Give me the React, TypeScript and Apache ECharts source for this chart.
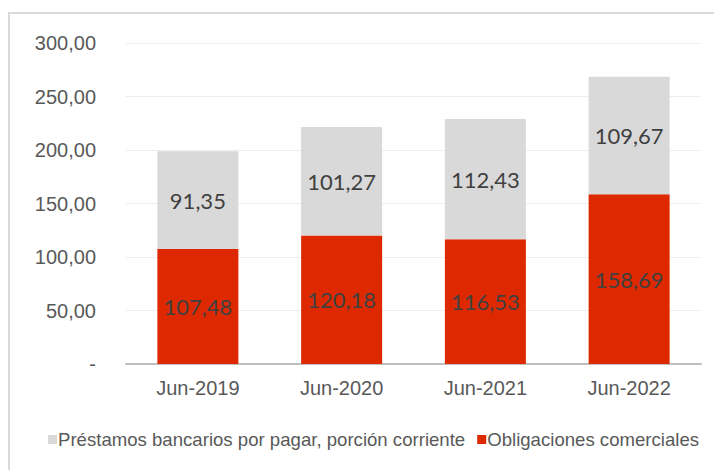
import React, { useEffect, useRef } from "react";
import * as echarts from "echarts";

const categories = ["Jun-2019", "Jun-2020", "Jun-2021", "Jun-2022"];
const obligaciones = [107.48, 120.18, 116.53, 158.69];
const prestamos = [91.35, 101.27, 112.43, 109.67];
const seriesNames = [
  "Préstamos bancarios por pagar, porción corriente",
  "Obligaciones comerciales",
];

const fmt = (v: number) => (v === 0 ? "-" : v.toFixed(2).replace(".", ","));

export default function App() {
  const ref = useRef<HTMLDivElement>(null);
  useEffect(() => {
    document.body.style.margin = "0";
    const chart = echarts.init(ref.current!, null, { renderer: "svg" });
    const labelStyle = {
      show: true,
      position: "inside" as const,
      color: "#404040",
      fontFamily: "Lato",
      fontSize: 22,
      formatter: (p: any) => fmt(p.value),
    };
    chart.setOption({
      animation: false,
      backgroundColor: "#ffffff",
      graphic: [
        {
          type: "rect",
          shape: { x: 9, y: 13, width: 720, height: 470 },
          style: { fill: "none", stroke: "#D9D9D9", lineWidth: 2 },
          silent: true,
        },
      ],
      grid: { left: 126, right: 13, top: 43, bottom: 106 },
      legend: {
        left: 43,
        top: 425,
        itemWidth: 9,
        itemHeight: 9,
        itemGap: 12,
        icon: "rect",
        textStyle: { color: "#595959", fontFamily: "Liberation Sans", fontSize: 18.6, padding: [0, 0, 0, -4] },
        data: [seriesNames[0], seriesNames[1]],
      },
      xAxis: {
        type: "category",
        data: categories,
        axisLine: { lineStyle: { color: "#BFBFBF", width: 2 } },
        axisTick: { show: false },
        axisLabel: { color: "#595959", fontFamily: "Liberation Sans", fontSize: 20, margin: 14 },
      },
      yAxis: {
        type: "value",
        min: 0,
        max: 300,
        interval: 50,
        axisLine: { show: false },
        axisTick: { show: false },
        splitLine: { lineStyle: { color: "#EDEDED", width: 1 } },
        axisLabel: {
          color: "#595959",
          fontFamily: "Liberation Sans",
          fontSize: 20,
          margin: 30,
          formatter: fmt,
        },
      },
      series: [
        {
          name: seriesNames[1],
          type: "bar",
          stack: "total",
          barWidth: 81,
          data: obligaciones,
          itemStyle: { color: "#DE2900" },
          label: labelStyle,
        },
        {
          name: seriesNames[0],
          type: "bar",
          stack: "total",
          barWidth: 81,
          data: prestamos,
          itemStyle: { color: "#D9D9D9" },
          label: labelStyle,
        },
      ],
    });
    return () => chart.dispose();
  }, []);
  return <div ref={ref} style={{ width: 714, height: 470 }} />;
}
